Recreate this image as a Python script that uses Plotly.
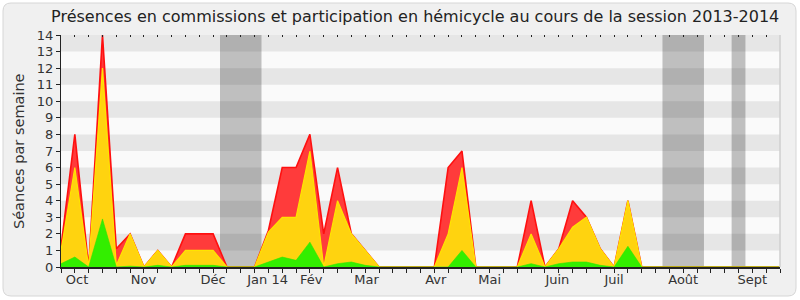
import plotly.graph_objects as go

# --- data (weekly values, week index 0..52) ---
weeks = list(range(53))
red_vals = [1.2, 8, 0, 14, 1.1, 2, 0, 1, 0, 2, 2, 2, 0, 0, 0,
            2.2, 6, 6, 8, 2, 6, 2, 1, 0, 0, 0, 0, 0, 6, 7,
            0, 0, 0, 0, 4, 0, 1.1, 4, 3, 1.1, 0, 4, 0,
            0, 0, 0, 0, 0, 0, 0, 0, 0, 0]
yellow_vals = [1.0, 6, 0, 12, 0.1, 2, 0, 1, 0, 1, 1, 1, 0, 0, 0,
               2.1, 3, 3, 7, 0, 4, 2, 1, 0, 0, 0, 0, 0, 2, 6,
               0, 0, 0, 0, 2, 0, 1.1, 2.4, 3, 1.1, 0, 4, 0,
               0, 0, 0, 0, 0, 0, 0, 0, 0, 0]
green_vals = [0.2, 0.6, 0, 2.9, 0, 0.05, 0, 0.1, 0, 0.1, 0.1, 0.1, 0, 0, 0,
              0.3, 0.6, 0.4, 1.5, 0, 0.2, 0.3, 0.1, 0, 0, 0, 0, 0, 0, 1,
              0, 0, 0, 0, 0.2, 0, 0.2, 0.3, 0.3, 0.1, 0, 1.25, 0,
              0, 0, 0, 0, 0, 0, 0, 0, 0, 0]
month_pos = [1.16, 5.97, 11.0, 14.94, 18.1, 22.1, 27.1, 31.0, 35.9, 40.0, 45.0, 50.0]
month_labels = ["Oct", "Nov", "Déc", "Jan 14", "Fév", "Mar", "Avr", "Mai", "Juin", "Juil", "Août", "Sept"]
vacations = [(11.5, 14.5), (43.5, 46.5), (48.5, 49.5)]
y_ticks = list(range(15))

XR = [0, 52]
FONT = "DejaVu Sans"

fig = go.Figure()
fig.add_trace(go.Scatter(x=weeks, y=red_vals, mode="lines", fill="tozeroy",
                         line=dict(color="#FF1010", width=1.6), fillcolor="#FF3B3B",
                         hoverinfo="skip", showlegend=False))
fig.add_trace(go.Scatter(x=weeks, y=yellow_vals, mode="lines", fill="tozeroy",
                         line=dict(color="#FFE400", width=1.2), fillcolor="#FFD30F",
                         hoverinfo="skip", showlegend=False))
fig.add_trace(go.Scatter(x=weeks, y=green_vals, mode="lines", fill="tozeroy",
                         line=dict(color="#2EE600", width=0.6), fillcolor="#33EE00",
                         hoverinfo="skip", showlegend=False))
# dummy traces so overlay axes are drawn
fig.add_trace(go.Scatter(x=[0], y=[0], xaxis="x2", mode="markers", marker=dict(opacity=0),
                         hoverinfo="skip", showlegend=False))
fig.add_trace(go.Scatter(x=[0], y=[0], xaxis="x3", mode="markers", marker=dict(opacity=0),
                         hoverinfo="skip", showlegend=False))

shapes = []
# background rounded frame
def px2paper(X, Y):
    return (X - 61) / 719.0, (267 - Y) / 232.0
x0, y0 = px2paper(3, 296)
x1, y1 = px2paper(796, 3)
rx, ry = 8 / 719.0, 8 / 232.0
path = (f"M {x0+rx},{y0} L {x1-rx},{y0} Q {x1},{y0} {x1},{y0+ry} L {x1},{y1-ry} "
        f"Q {x1},{y1} {x1-rx},{y1} L {x0+rx},{y1} Q {x0},{y1} {x0},{y1-ry} "
        f"L {x0},{y0+ry} Q {x0},{y0} {x0+rx},{y0} Z")
shapes.append(dict(type="path", xref="paper", yref="paper", path=path,
                   fillcolor="#F0F0F0", line=dict(color="#D6D6D6", width=1), layer="below"))
# plot area background
shapes.append(dict(type="rect", xref="x", yref="y", x0=XR[0], x1=XR[1], y0=0, y1=14,
                   fillcolor="#FAFAFA", line=dict(width=0), layer="below"))
# vacation shading
for a, b in vacations:
    shapes.append(dict(type="rect", xref="x", yref="y", x0=a, x1=b, y0=0, y1=14,
                       fillcolor="#BFBFBF", line=dict(width=0), layer="below"))
# alternating bands
for k in range(1, 14, 2):
    shapes.append(dict(type="rect", xref="x", yref="y", x0=XR[0], x1=XR[1], y0=k, y1=k + 1,
                       fillcolor="rgba(0,0,0,0.08)", line=dict(width=0), layer="below"))
# right border
shapes.append(dict(type="line", xref="paper", yref="paper", x0=1, x1=1, y0=0, y1=1,
                   line=dict(color="#CFCFCF", width=1.5), layer="above"))

fig.update_layout(
    width=800, height=300,
    margin=dict(l=61, r=20, t=35, b=33),
    paper_bgcolor="white", plot_bgcolor="#FAFAFA",
    font=dict(family=FONT, size=13, color="#333333"),
    title=dict(text="Présences en commissions et participation en hémicycle au cours de la session 2013-2014",
               x=0.519, xanchor="center", y=1 - 16 / 300, yanchor="middle",
               font=dict(family=FONT, size=16, color="#222222")),
    shapes=shapes,
    xaxis=dict(range=XR, tickmode="array", tickvals=weeks, ticks="outside", ticklen=4,
               tickcolor="#222222", showticklabels=False, showline=True, linecolor="#222222",
               linewidth=2, showgrid=False, zeroline=False),
    xaxis2=dict(range=XR, overlaying="x", side="top", anchor="y", tickmode="array",
                tickvals=weeks, ticks="inside", ticklen=2, tickcolor="#222222",
                showticklabels=False, showline=False, showgrid=False, zeroline=False),
    xaxis3=dict(range=XR, overlaying="x", side="bottom", anchor="y", tickmode="array",
                tickvals=month_pos, ticktext=month_labels, ticks="outside", ticklen=0,
                tickcolor="rgba(0,0,0,0)",
                showline=False, showgrid=False, zeroline=False,
                tickfont=dict(family=FONT, size=13, color="#333333")),
    yaxis=dict(range=[0, 14], tickmode="array", tickvals=y_ticks, ticks="outside", ticklen=4,
               tickcolor="#222222", showline=True, linecolor="#222222", linewidth=1,
               showgrid=False, zeroline=False, tickfont=dict(family=FONT, size=13, color="#333333")),
    annotations=[dict(text="Séances par semaine", xref="paper", yref="paper",
                      x=(19 - 61) / 719.0, y=0.5, xanchor="center", yanchor="middle",
                      textangle=-90, showarrow=False,
                      font=dict(family=FONT, size=14.5, color="#333333"))],
)

fig.write_html("out.html")
